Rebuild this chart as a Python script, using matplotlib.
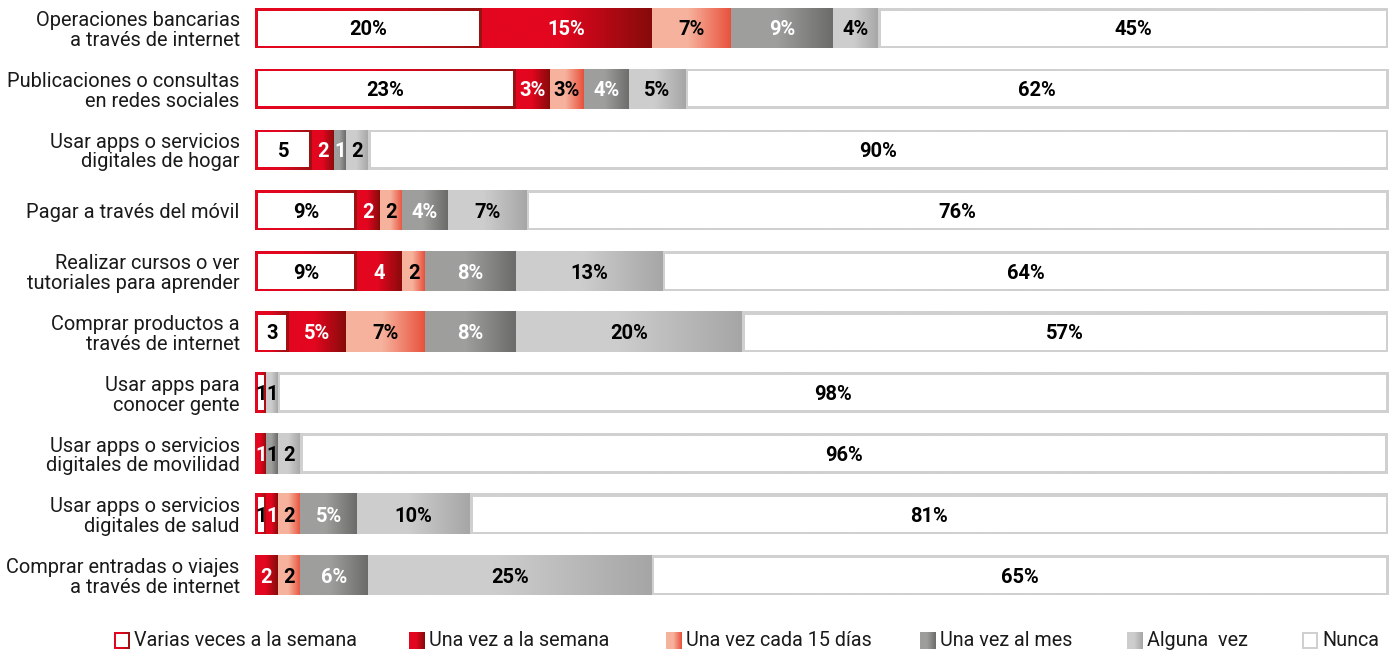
import numpy as np
import matplotlib.pyplot as plt
from matplotlib.colors import to_rgb
from matplotlib.patches import Rectangle

categories = [
    'Operaciones bancarias\na través de internet',
    'Publicaciones o consultas\nen redes sociales',
    'Usar apps o servicios\ndigitales de hogar',
    'Pagar a través del móvil',
    'Realizar cursos o ver\ntutoriales para aprender',
    'Comprar productos a\ntravés de internet',
    'Usar apps para\nconocer gente',
    'Usar apps o servicios\ndigitales de movilidad',
    'Usar apps o servicios\ndigitales de salud',
    'Comprar entradas o viajes\na través de internet',
]
series = ['Varias veces a la semana', 'Una vez a la semana', 'Una vez cada 15 días',
          'Una vez al mes', 'Alguna  vez', 'Nunca']

varias = [20, 23, 5, 9, 9, 3, 1, 0, 1, 0]
semana = [15, 3, 2, 2, 4, 5, 0, 1, 1, 2]
quince = [7, 3, 0, 2, 2, 7, 0, 0, 2, 2]
mes = [9, 4, 1, 4, 8, 8, 0, 1, 5, 6]
alguna = [4, 5, 2, 7, 13, 20, 1, 2, 10, 25]
nunca = [45, 62, 90, 76, 64, 57, 98, 96, 81, 65]

# narrow segments whose label goes without the % sign (besides values <= 2)
sin_pct = {(2, 0), (4, 1), (5, 0)}

# (left colour, right colour, kind) per series
estilos = [
    ('#e3061f', '#9a1212', 'borde'),
    ('#e3061f', '#870b0b', 'lleno'),
    ('#f6b29d', '#e8513c', 'lleno'),
    ('#9e9e9d', '#6c6c6b', 'lleno'),
    ('#cdcdcd', '#a6a6a6', 'lleno'),
    ('#d0d0d0', '#d0d0d0', 'borde'),
]
texto_color = ['black', 'white', 'black', 'white', 'black', 'black']

W, H = 1398, 656
fig = plt.figure(figsize=(W / 100, H / 100), dpi=100)
plt.rcParams['font.family'] = ['Roboto', 'DejaVu Sans']

row0, paso = 28, 60.8
ax_left, ax_right = 255, 1388
ax_bottom = row0 + 9.5 * paso
ax = fig.add_axes([ax_left / W, 1 - ax_bottom / H, (ax_right - ax_left) / W, ax_bottom / H])
ax.set_xlim(0, 100)
ax.set_ylim(9.5, -row0 / paso)
px_x = (ax_right - ax_left) / 100.0
px_y = paso


def gradiente(c0, c1, inicio=0.45, n=64):
    t = np.linspace(0, 1, n)
    f = np.clip((t - inicio) / (1 - inicio), 0, 1)
    a, b = np.array(to_rgb(c0)), np.array(to_rgb(c1))
    return (a[None, :] * (1 - f[:, None]) + b[None, :] * f[:, None])[None, :, :]


def segmento(axis, l, r, b, t, c0, c1, kind, bx, by):
    axis.imshow(gradiente(c0, c1), extent=(l, r, b, t), aspect='auto',
                interpolation='bilinear', zorder=1)
    if kind == 'borde':
        axis.add_patch(Rectangle((l + bx, min(b, t) + by), (r - l) - 2 * bx,
                                 abs(t - b) - 2 * by, facecolor='white',
                                 edgecolor='none', zorder=2))


datos = np.array([varias, semana, quince, mes, alguna, nunca])
alto = 40 / paso
for i in range(len(categories)):
    izq = 0
    for j in range(len(series)):
        v = datos[j, i]
        if v == 0:
            continue
        c0, c1, kind = estilos[j]
        segmento(ax, izq, izq + v, i - alto / 2, i + alto / 2, c0, c1, kind,
                 2.5 / px_x, 2.5 / px_y)
        etiqueta = f'{v}' if (v <= 2 or (i, j) in sin_pct) else f'{v}%'
        col = texto_color[j]
        if (i, j) == (7, 3):
            col = 'black'
        ax.text(izq + v / 2, i + 0.03, etiqueta, ha='center', va='center',
                fontsize=14.5, fontweight='bold', color=col, zorder=3)
        izq += v

ax.set_yticks(range(len(categories)))
ax.set_yticklabels(categories, fontsize=14.4, color='#1a1a1a', linespacing=1.05)
ax.tick_params(axis='y', length=0, pad=11)
ax.set_xticks([])
for s in ax.spines.values():
    s.set_visible(False)

# legend row along the bottom
lg = fig.add_axes([0, 0, 1, 1], zorder=5)
lg.set_xlim(0, W)
lg.set_ylim(H, 0)
lg.axis('off')
lg.patch.set_alpha(0)
marcas_x = [114, 409, 666, 920, 1127, 1302]
for x, nombre, (c0, c1, kind) in zip(marcas_x, series, estilos):
    segmento(lg, x, x + 16, 632, 649, c0, c1, kind, 2, 2)
    lg.text(x + 20, 641, nombre, ha='left', va='center', fontsize=14.2,
            color='#1a1a1a')

fig.savefig('out.png', dpi=100)
